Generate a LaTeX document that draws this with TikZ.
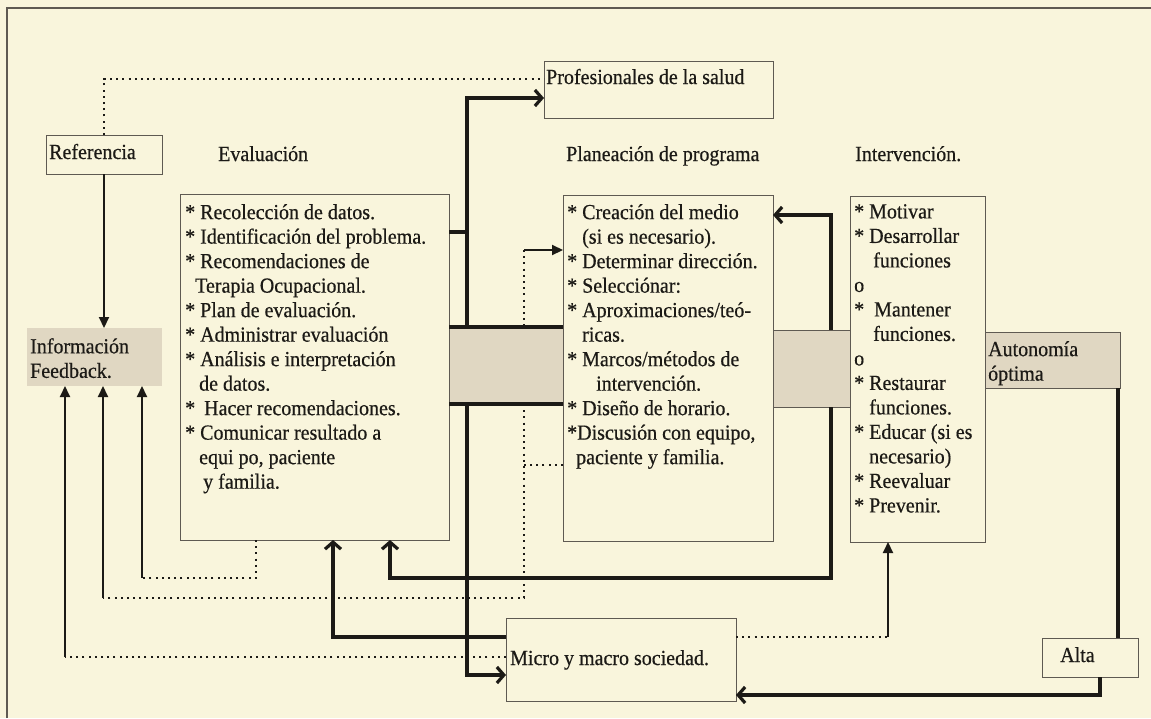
\documentclass[tikz,border=0pt]{standalone}
\usepackage{fontspec}
\setmainfont{Liberation Serif}[FakeBold=0.5,FakeStretch=0.93]
\usetikzlibrary{arrows.meta}
\definecolor{bg}{RGB}{249,245,220}
\definecolor{shade}{RGB}{224,215,194}
\definecolor{ink}{RGB}{28,26,22}
\definecolor{edge}{RGB}{95,90,82}
\begin{document}
\begin{tikzpicture}[x=1pt,y=-1pt,
  font=\fontsize{21.5}{24.5}\selectfont,
  box/.style={draw=edge, line width=1pt, inner sep=0pt, outer sep=0pt, anchor=north west},
  band/.style={fill=shade, inner sep=0pt, outer sep=0pt, anchor=north west},
  lbl/.style={inner sep=0pt, anchor=base west, text=ink},
  para/.style={inner sep=0pt, anchor=north west, align=left, text=ink, execute at begin node=\strut},
  thk/.style={draw=ink, line width=3.2pt},
  thn/.style={draw=ink, line width=2.1pt},
  chev/.style={-{Straight Barb[length=7pt,width=16pt]}},
  tri/.style={-{Triangle[length=11pt,width=10pt]}},
  dot/.style={draw=ink, line width=1.9pt, dash pattern=on 2pt off 4.2pt}
]
\useasboundingbox (0,0) rectangle (1151,718);
\fill[bg] (0,0) rectangle (1151,718);
\draw[edge, line width=1.2pt] (7,718) -- (7,8) -- (1151,8);

% shaded areas
\node[band, minimum width=114pt, minimum height=77pt] (bandL) at (449,327) {};
\node[band, draw=edge, line width=0.8pt, minimum width=77pt, minimum height=77pt] (bandR) at (773,330) {};
\node[band, minimum width=135pt, minimum height=58pt] (info) at (27,328) {};
\node[band, draw=edge, line width=0.8pt, minimum width=135pt, minimum height=56pt] (auto) at (985,332) {};

% boxes
\node[box, minimum width=229pt, minimum height=57pt] (prof) at (544,61) {};
\node[box, minimum width=116pt, minimum height=39pt] (ref) at (46,135) {};
\node[box, minimum width=269pt, minimum height=346pt] (eval) at (180,194) {};
\node[box, minimum width=210pt, minimum height=346pt] (plan) at (563,195) {};
\node[box, minimum width=135pt, minimum height=346pt] (interv) at (850,196) {};
\node[box, minimum width=230pt, minimum height=83pt] (micro) at (506,618) {};
\node[box, minimum width=96pt, minimum height=39pt] (alta) at (1042,638) {};

% junction points
\coordinate (LU) at (467,98);
\coordinate (LT) at (467,232);
\coordinate (LD) at (467,675);
\coordinate (RU) at (831,215);
\coordinate (RD) at (831,578);
\coordinate (RD2) at (390,578);
\coordinate (M1) at (333,637);
\coordinate (A1) at (1100,695);
\coordinate (AX) at (1118,500);
\coordinate (P1) at (104,79);
\coordinate (DA) at (524,250);
\coordinate (DB) at (524,598);
\coordinate (DC) at (524,465);
\coordinate (FB1) at (65,657);
\coordinate (FB2) at (103,598);
\coordinate (FB3) at (142,578);
\coordinate (E1) at (256,578);
\coordinate (I1) at (888,637);

% thick connectors
\draw[thk,chev] (bandL.north -| LU) -- (LU) -- (prof.west |- LU);
\draw[thk] (eval.east |- LT) -- (LT);
\draw[thk] (bandL.north west) -- (bandL.north east);
\draw[thk] (bandL.south west) -- (bandL.south east);
\draw[thk,chev] (bandL.south -| LD) -- (LD) -- (micro.west |- LD);
\draw[thk,chev] (bandR.north -| RU) -- (RU) -- (plan.east |- RU);
\draw[thk,chev] (bandR.south -| RD) -- (RD) -- (RD2) -- (eval.south -| RD2);
\draw[thk,chev] (micro.west |- M1) -- (M1) -- (eval.south -| M1);
\draw[thk,chev] (alta.south -| A1) -- (A1) -- (micro.east |- A1);
\draw[thk] (auto.south -| AX) -- (alta.north -| AX);

% thin and dotted connectors
\draw[thn,tri] (ref.south) -- (info.north -| ref.south);
\draw[dot] (ref.north) -- (ref.north |- P1) -- (prof.west |- P1);
\draw[thn,tri] (DA) -- (plan.west |- DA);
\draw[dot] (DA) -- (bandL.north -| DA);
\draw[dot] (bandL.south -| DA) -- (DB) -- (FB2);
\draw[dot] (plan.west |- DC) -- (DC);
\draw[thn,tri] (FB2) -- (info.south -| FB2);
\draw[dot] (eval.south -| E1) -- (E1) -- (FB3);
\draw[thn,tri] (FB3) -- (info.south -| FB3);
\draw[dot] (micro.west |- FB1) -- (FB1);
\draw[thn,tri] (FB1) -- (info.south -| FB1);
\draw[dot] (micro.east |- I1) -- (I1);
\draw[thn,tri] (I1) -- (interv.south -| I1);

% texts
\node[lbl] (proft) at (546,84) {Profesionales de la salud};
\node[lbl] (reft) at (49,159) {Referencia};
\node[lbl] (evall) at (218,161) {Evaluación};
\node[lbl] (planl) at (566,161) {Planeación de programa};
\node[lbl] (intl) at (855,161) {Intervención.};
\node[lbl] (microt) at (510,665) {Micro y macro sociedad.};
\node[lbl] (altat) at (1060,662) {Alta};
\node[para] (infot) at (30,338) {Información\\Feedback.};
\node[para] (autot) at (988,341) {Autonomía\\óptima};

\node[para] (evalt) at (185,204) {{}* Recolección de datos.\\
{}* Identificación del problema.\\
{}* Recomendaciones de\\
\hspace*{10pt}Terapia Ocupacional.\\
{}* Plan de evaluación.\\
{}* Administrar evaluación\\
{}* Análisis e interpretación\\
\hspace*{14pt}de datos.\\
{}*\hspace*{9pt}Hacer recomendaciones.\\
{}* Comunicar resultado a\\
\hspace*{14pt}equi po, paciente\\
\hspace*{18pt}y familia.};

\node[para] (plant) at (567,204) {{}* Creación del medio\\
\hspace*{15pt}(si es necesario).\\
{}* Determinar dirección.\\
{}* Selecciónar:\\
{}* Aproximaciones/teó-\\
\hspace*{15pt}ricas.\\
{}* Marcos/métodos de\\
\hspace*{29pt}intervención.\\
{}* Diseño de horario.\\
{}*Discusión con equipo,\\
\hspace*{9pt}paciente y familia.};

\node[para] (intt) at (854,204) {{}* Motivar\\
{}* Desarrollar\\
\hspace*{19pt}funciones\\
o\\
{}*\hspace*{10pt}Mantener\\
\hspace*{19pt}funciones.\\
o\\
{}* Restaurar\\
\hspace*{15pt}funciones.\\
{}* Educar (si es\\
\hspace*{15pt}necesario)\\
{}* Reevaluar\\
{}* Prevenir.};
\end{tikzpicture}
\end{document}
